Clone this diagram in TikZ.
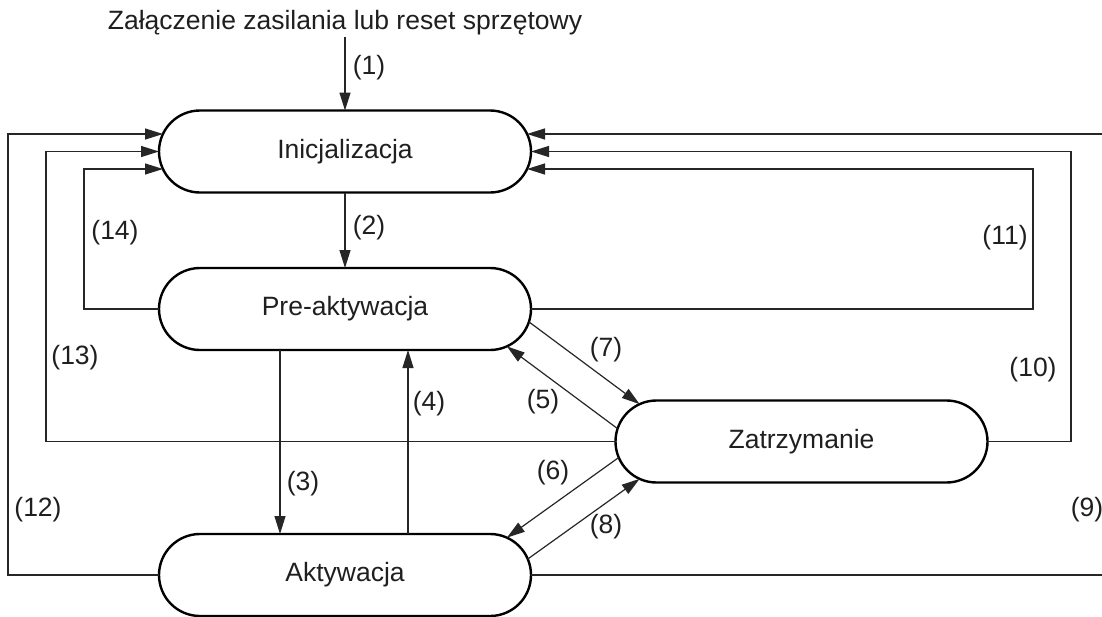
\documentclass[tikz,border=0pt]{standalone}
\usepackage{fontspec}
\setmainfont{Liberation Sans}
\usetikzlibrary{shapes.misc,arrows.meta,calc}
\begin{document}
\begin{tikzpicture}[x=1pt,y=-1pt,
  state/.style={rounded rectangle, draw=black, line width=2.4pt,
    minimum width=372pt, minimum height=82pt, inner sep=0pt, outer sep=0pt,
    font=\fontsize{26.5}{30}\selectfont, text=black!88},
  conn/.style={line width=1.2pt, draw=black!85},
  arr/.style={conn, -{Triangle[length=18pt,width=11pt]}},
  lbl/.style={font=\fontsize{26.5}{30}\selectfont, text=black!88, inner sep=0pt}]
\useasboundingbox (0,0) rectangle (1102,616);

% states
\node[lbl] (title) at (345,23) {Załączenie zasilania lub reset sprzętowy};
\node[state] (init) at (345,151.5) {Inicjalizacja};
\node[state] (pa)   at (345,309)   {Pre-aktywacja};
\node[state] (akt)  at (345,575)   {Aktywacja};
\node[state] (zat)  at (801.5,441.5) {Zatrzymanie};

% helper columns and entry points on the ends of the first state
\coordinate (x3) at (280,0);
\coordinate (x4) at (408,0);
\coordinate (x14) at (84,0);
\coordinate (x13) at (46,0);
\coordinate (x12) at (8,0);
\coordinate (x11) at (1033,0);
\coordinate (x10) at (1071,0);
\coordinate (x9) at (1104,0);
\coordinate (iL1) at ($(init.west)+(4,-17.5)$);
\coordinate (iL3) at ($(init.west)+(4,17.5)$);
\coordinate (iR1) at ($(init.east)+(-4,-17.5)$);
\coordinate (iR3) at ($(init.east)+(-4,17.5)$);

% main transitions
\draw[arr] ([yshift=-1pt]title.south) -- (init.north);
\draw[arr] (init.south) -- (pa.north);
\draw[arr] (pa.south -| x3) -- (akt.north -| x3);
\draw[arr] (akt.north -| x4) -- (pa.south -| x4);
\draw[arr] (pa.-4.9) -- (zat.167.6);
\draw[arr] (zat.176.5) -- (pa.-13.1);
\draw[arr] (zat.-175.8) -- (akt.13.1);
\draw[arr] (akt.5) -- (zat.-167.6);

% returns to initialisation, left side
\draw[arr] (pa.west) -| (x14 |- iL3) -- (iL3);
\draw[arr] (zat.west) -| (x13 |- init.west) -- (init.west);
\draw[arr] (akt.west) -| (x12 |- iL1) -- (iL1);

% returns to initialisation, right side
\draw[arr] (pa.east) -| (x11 |- iR3) -- (iR3);
\draw[arr] (zat.east) -| (x10 |- init.east) -- (init.east);
\draw[arr] (akt.east) -| (x9 |- iR1) -- (iR1);

% transition numbers
\node[lbl] (l1)  at (369,68)  {(1)};
\node[lbl] (l2)  at (369,228) {(2)};
\node[lbl] (l3)  at (303,484) {(3)};
\node[lbl] (l4)  at (429,404) {(4)};
\node[lbl] (l5)  at (543,402) {(5)};
\node[lbl] (l6)  at (553,473) {(6)};
\node[lbl] (l7)  at (606,350) {(7)};
\node[lbl] (l8)  at (606,527) {(8)};
\node[lbl] (l9)  at (1087,510) {(9)};
\node[lbl] (l10) at (1033,370) {(10)};
\node[lbl] (l11) at (1005,238) {(11)};
\node[lbl] (l12) at (38,510)  {(12)};
\node[lbl] (l13) at (75,358)  {(13)};
\node[lbl] (l14) at (115,233) {(14)};
\end{tikzpicture}
\end{document}
